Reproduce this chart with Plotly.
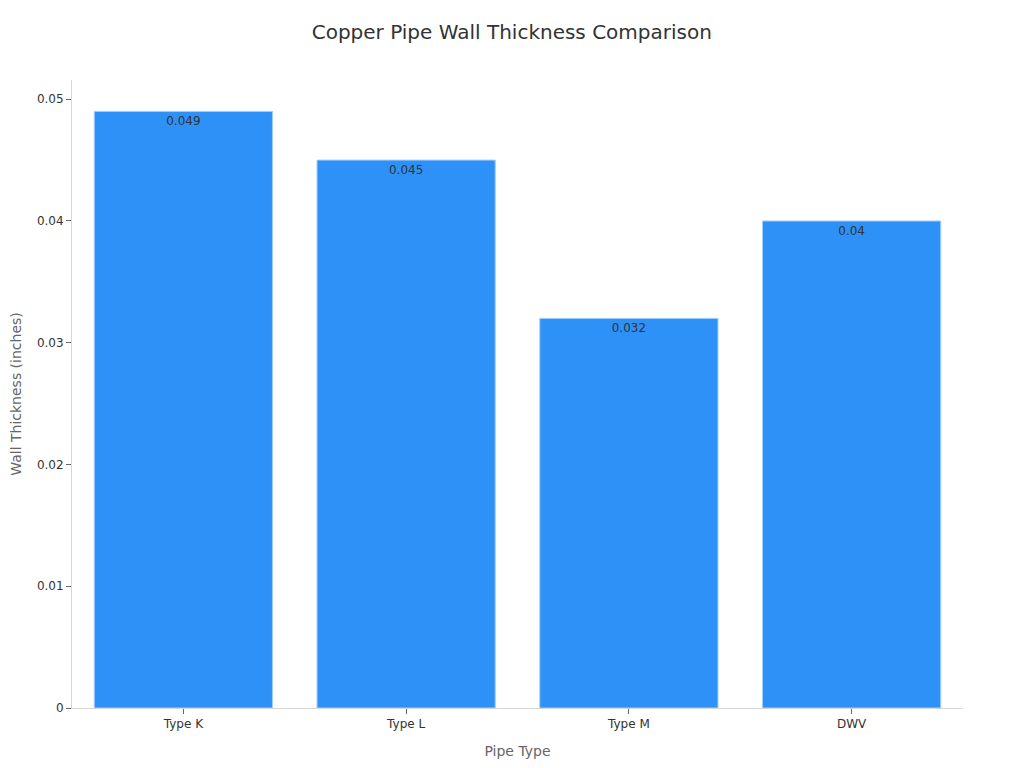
import plotly.graph_objects as go

pipe_types = ["Type K", "Type L", "Type M", "DWV"]
wall_thickness = [0.049, 0.045, 0.032, 0.04]

fig = go.Figure(go.Bar(
    x=pipe_types,
    y=wall_thickness,
    text=wall_thickness,
    textposition="inside",
    insidetextanchor="end",
    textfont=dict(color="#333333", size=12),
    marker=dict(color="#2e91f8", line=dict(color="#9fcdfb", width=1)),
))

fig.update_layout(
    width=1024, height=768,
    font=dict(family="DejaVu Sans", color="#333333", size=12),
    title=dict(text="Copper Pipe Wall Thickness Comparison", x=0.492, xanchor="center",
               y=0.978, font=dict(size=20, color="#333333")),
    plot_bgcolor="white", paper_bgcolor="white",
    margin=dict(l=64, r=69, t=72, b=68),
    bargap=0.2,
    showlegend=False,
)
fig.update_xaxes(
    title=dict(text="Pipe Type", font=dict(size=14, color="#666666")),
    showline=True, linecolor="#d6d6d6", ticks="outside", tickcolor="#666666", ticklen=5,
    showgrid=False, automargin=False,
)
fig.update_yaxes(
    title=dict(text="Wall Thickness (inches)", font=dict(size=14, color="#666666"), standoff=18),
    showline=True, linecolor="#d6d6d6", ticks="outside", tickcolor="#666666", ticklen=5,
    showgrid=False, zeroline=False, dtick=0.01, automargin=False,
)

fig.write_html("out.html")
